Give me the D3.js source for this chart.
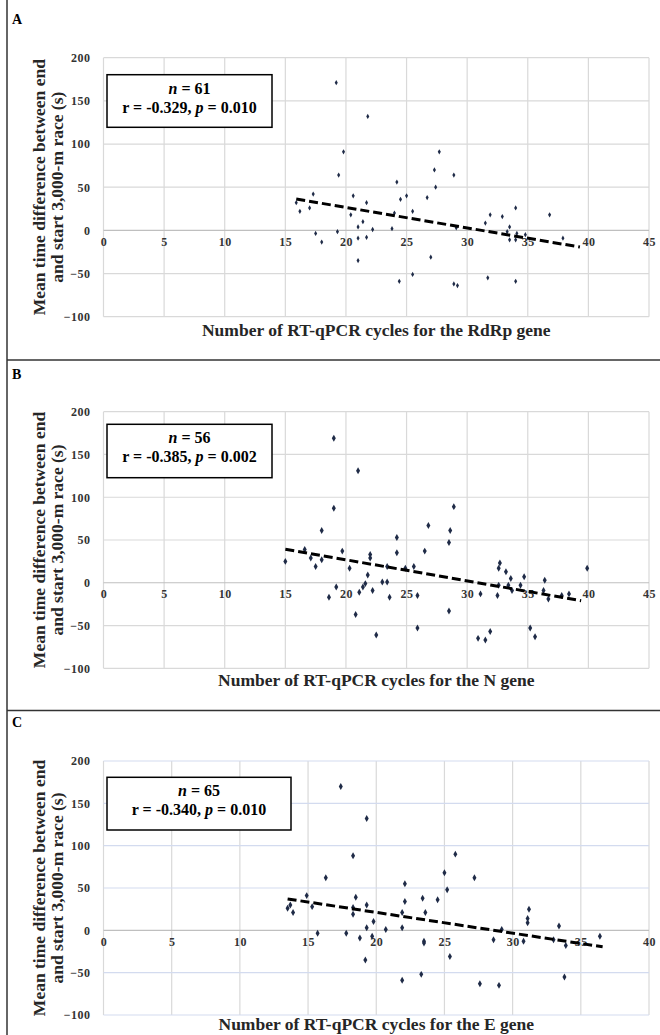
<!DOCTYPE html>
<html>
<head>
<meta charset="utf-8">
<script src="https://cdn.jsdelivr.net/npm/d3@7"></script>
<style>
  body { margin: 0; background: #fff; }
  text { font-family: "Liberation Serif", "Times New Roman", serif; font-weight: bold; }
</style>
</head>
<body>
<script>
// values
const rdrpCt = [19.2,21.8,19.8,19.4,15.9,16.2,17.0,17.3,17.5,18.0,19.3,20.6,20.4,21.0,21.4,21.7,21.0,21.7,21.0,22.2,23.8,24.2,24.5,25.0,24.0,25.5,26.7,27.4,27.3,27.7,27.0,25.5,24.4,28.9,28.9,29.2,29.1,31.5,31.9,32.9,34.0,33.5,33.3,33.5,34.0,34.1,34.8,36.8,37.9,31.7,34.0]
const rdrpDiff = [171,132,91,64,32,22,26,42,-3.5,-13.5,-1.5,40,18,4,10,32,-9,-8,-35,1,2,56,36,40,20,22,38,50,70,91,-31,-51,-59,64,-62,-64,3,8.5,18,16,26,4,-1.5,-11,-11,-3.5,-5,18,-9,-55,-59]
const rdrpTrend = [[15.9, 36.3], [39.3, -19.3]]

const nCt = [19.0,21.0,19.0,18.0,15.0,16.6,17.1,17.5,18.0,19.7,20.3,19.2,18.6,22.0,22.0,21.8,21.6,21.4,21.1,22.2,20.8,22.5,23.0,23.4,23.4,23.6,24.2,24.2,24.9,25.6,25.9,25.9,26.5,26.8,28.9,28.6,28.5,28.5,31.1,30.9,31.5,31.9,32.5,32.6,32.7,33.2,33.6,32.6,33.4,33.7,34.4,34.7,35.2,35.6,36.4,36.3,36.7,37.8,38.4,39.9]
const nDiff = [169,131,87,61,25,39,29,19,27,37,17,-5,-17,33,29,9,-1,-5,-11,-9,-37,-61,1,1,19,-17,53,35,17,19,-15,-53,37,67,89,61,47,-33,-13,-65,-67,-57,-15,17,23,13,5,-3,-3,-9,-3,7,-53,-63,3,-9,-19,-15,-13,17]
const nTrend = [[15.0, 39.2], [39.4, -21]]

const eCt = [17.4,19.3,18.3,16.3,13.5,13.7,13.9,14.9,15.3,15.7,17.8,18.5,18.3,18.3,19.3,18.8,19.3,19.8,19.7,19.2,20.7,21.9,21.9,22.1,22.1,21.9,23.3,23.4,23.6,23.5,23.5,24.5,25.0,25.8,25.2,25.4,27.2,27.6,29.0,28.6,29.2,30.8,31.2,31.1,31.1,33.4,33.9,33.8,36.4,33.0]
const eDiff = [170,132,88,62,26,30,21,41,28,-3.5,-3.5,39,27,19,30,-9,3,10.5,-7,-35,1,3,21,34,55,-59,-52,38,21,-13,-15,36,68,90,48,-31,62,-63,-65,-11,1,-13,25,14,9,5,-18,-55,-7,-11]
const eTrend = [[13.5, 37.1], [36.6, -19.5]]

const yTicks = [-100, -50, 0, 50, 100, 150, 200]
const xTicks45 = [0, 5, 10, 15, 20, 25, 30, 35, 40, 45]
const xTicks40 = [0, 5, 10, 15, 20, 25, 30, 35, 40]

const W = 660, H = 1035
const svg = d3.select('body').append('svg').attr('width', W).attr('height', H)

// frame lines between the panels
svg.append('line').attr('x1', 7).attr('x2', 7).attr('y1', 0).attr('y2', H)
  .attr('stroke', '#333').attr('stroke-width', 1.5)
;[360, 710.5].forEach(y => {
  svg.append('line').attr('x1', 7).attr('x2', W).attr('y1', y).attr('y2', y)
    .attr('stroke', '#333').attr('stroke-width', 1.5)
})

const panels = [
  { letter: 'A', ct: rdrpCt, diff: rdrpDiff, trend: rdrpTrend, xMax: 45, xTicks: xTicks45,
    top: 57.7, bottom: 316.7, letterY: 24, xTitleY: 336, r: 8,
    xTitle: 'Number of RT-qPCR cycles for the RdRp gene', n: '61', stat: 'r = -0.329, ', pv: '0.010',
    box: [107, 74.7, 272, 127.3], hGrid: '#d9d9d9' },
  { letter: 'B', ct: nCt, diff: nDiff, trend: nTrend, xMax: 45, xTicks: xTicks45,
    top: 411.7, bottom: 668.3, letterY: 379, xTitleY: 686, r: 14,
    xTitle: 'Number of RT-qPCR cycles for the N gene', n: '56', stat: 'r = -0.385, ', pv: '0.002',
    box: [107, 424.3, 272, 477.7], hGrid: '#d9d9d9' },
  { letter: 'C', ct: eCt, diff: eDiff, trend: eTrend, xMax: 40, xTicks: xTicks40,
    top: 761, bottom: 1015, letterY: 727, xTitleY: 1030, r: 14,
    xTitle: 'Number of RT-qPCR cycles for the E gene', n: '65', stat: 'r = -0.340, ', pv: '0.010',
    box: [107, 777.3, 291, 830], hGrid: '#d3dbef' }
]

const left = 103.5, right = 649

panels.forEach(p => {
  const g = svg.append('g')
  const x = d3.scaleLinear().domain([0, p.xMax]).range([left, right])
  const y = d3.scaleLinear().domain([-100, 200]).range([p.bottom, p.top])

  // gridlines
  g.append('g').selectAll('line').data(p.xTicks).join('line')
    .attr('x1', d => x(d)).attr('x2', d => x(d))
    .attr('y1', p.top).attr('y2', p.bottom)
    .attr('stroke', '#d9d9d9').attr('stroke-width', 1.2)
  g.append('g').selectAll('line').data(yTicks).join('line')
    .attr('x1', left).attr('x2', right)
    .attr('y1', d => y(d)).attr('y2', d => y(d))
    .attr('stroke', d => d === 0 ? '#bfbfbf' : p.hGrid).attr('stroke-width', 1.2)

  // tick labels
  const yAxis = g.append('g').attr('transform', `translate(${left - 4},0)`)
    .call(d3.axisLeft(y).tickValues(yTicks).tickSize(0).tickPadding(9))
  const xAxis = g.append('g').attr('transform', `translate(0,${y(0)})`)
    .call(d3.axisBottom(x).tickValues(p.xTicks).tickSize(0).tickPadding(7))
  ;[yAxis, xAxis].forEach(a => {
    a.select('.domain').remove()
    a.selectAll('text').attr('font-size', 12).attr('fill', '#333')
      .style('font-family', '"Liberation Serif", serif').style('font-weight', 'bold')
      .style('letter-spacing', '0.5px')
  })

  // points
  g.append('g').selectAll('path').data(p.ct.map((c, i) => [c, p.diff[i]])).join('path')
    .attr('transform', d => `translate(${x(d[0])},${y(d[1])})`)
    .attr('d', d3.symbol(d3.symbolDiamond, p.r))
    .attr('fill', '#1f2b47')

  // trend line
  g.append('path').datum(p.trend)
    .attr('d', d3.line().x(d => x(d[0])).y(d => y(d[1])))
    .attr('stroke', '#000').attr('stroke-width', 3).attr('stroke-dasharray', '9,4')
    .attr('fill', 'none')

  // stats box
  const [bx0, by0, bx1, by1] = p.box
  g.append('rect').attr('x', bx0).attr('y', by0).attr('width', bx1 - bx0).attr('height', by1 - by0)
    .attr('fill', '#fff').attr('stroke', '#000').attr('stroke-width', 1.5)
  const cx = (bx0 + bx1) / 2
  const t1 = g.append('text').attr('x', cx).attr('y', by0 + 19).attr('text-anchor', 'middle').attr('font-size', 16)
  t1.append('tspan').attr('font-style', 'italic').text('n')
  t1.append('tspan').text(' = ' + p.n)
  const t2 = g.append('text').attr('x', cx).attr('y', by0 + 38).attr('text-anchor', 'middle').attr('font-size', 16)
  t2.append('tspan').text(p.stat)
  t2.append('tspan').attr('font-style', 'italic').text('p')
  t2.append('tspan').text(' = ' + p.pv)

  // titles
  g.append('text').attr('x', 12).attr('y', p.letterY).attr('font-size', 14).text(p.letter)
  g.append('text').attr('x', (left + right) / 2).attr('y', p.xTitleY)
    .attr('text-anchor', 'middle').attr('font-size', 17.5).attr('fill', '#262626').text(p.xTitle)
  const midY = (p.top + p.bottom) / 2
  ;['Mean time difference between end', 'and start 3,000-m race (s)'].forEach((line, i) => {
    g.append('text').attr('transform', `translate(${39 + i * 18},${midY}) rotate(-90)`)
      .attr('text-anchor', 'middle').attr('dominant-baseline', 'central')
      .attr('font-size', 17.5).attr('fill', '#262626').text(line)
  })
})
</script>
</body>
</html>
